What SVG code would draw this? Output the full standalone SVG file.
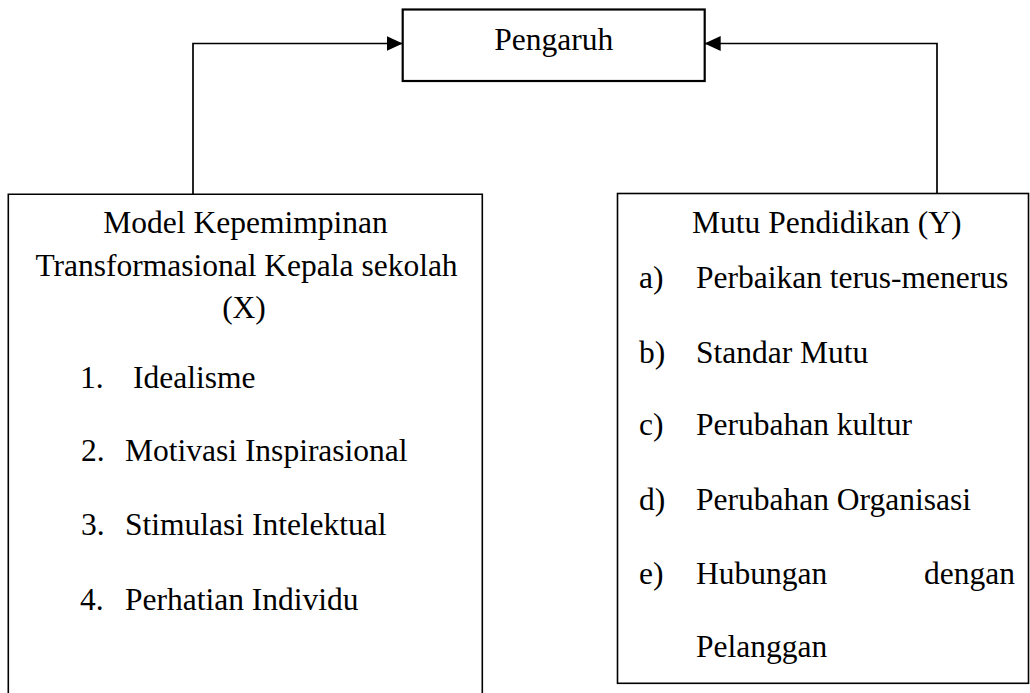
<svg xmlns="http://www.w3.org/2000/svg" width="1030" height="693" viewBox="0 0 1030 693">
  <style>
    .box { fill: #ffffff; stroke: #000000; stroke-width: 1.6; }
    .box-top { fill: #ffffff; stroke: #000000; stroke-width: 2.2; }
    .conn { fill: none; stroke: #000000; stroke-width: 1.7; }
    text { font-family: "Liberation Serif", "Times New Roman", serif; font-size: 31.5px; fill: #000000; }
    .c { text-anchor: middle; }
  </style>
  <defs>
    <marker id="arrow" markerUnits="userSpaceOnUse" markerWidth="16" markerHeight="16" viewBox="0 0 16 16" refX="16" refY="8" orient="auto">
      <path d="M0,0.5 L16,8 L0,15.5 z" fill="#000000"/>
    </marker>
  </defs>
  <rect width="1030" height="693" fill="#ffffff"/>

  <g id="connectors">
    <path class="conn" d="M193,194.3 V43.5 H402.7" marker-end="url(#arrow)"/>
    <path class="conn" d="M937,193.5 V43.5 H704.7" marker-end="url(#arrow)"/>
  </g>

  <g id="node-pengaruh">
    <rect class="box-top" x="402.7" y="9.5" width="302" height="71.5"/>
    <text class="c" x="553.7" y="50">Pengaruh</text>
  </g>

  <g id="node-x">
    <path class="box" d="M8.3,710 V194.3 H482.3 V710"/>
    <text class="c" x="245.5" y="233">Model Kepemimpinan</text>
    <text class="c" x="246.5" y="276">Transformasional Kepala sekolah</text>
    <text class="c" x="244" y="318">(X)</text>
    <text x="80" y="388">1.</text>
    <text x="133" y="388">Idealisme</text>
    <text x="81" y="461">2.</text>
    <text x="125" y="461">Motivasi Inspirasional</text>
    <text x="81" y="535">3.</text>
    <text x="125" y="535">Stimulasi Intelektual</text>
    <text x="80" y="610">4.</text>
    <text x="125" y="610">Perhatian Individu</text>
  </g>

  <g id="node-y">
    <rect class="box" x="617.5" y="193.5" width="411" height="489.8"/>
    <text x="692" y="233">Mutu Pendidikan (Y)</text>
    <text x="639" y="288">a)</text>
    <text x="696" y="288">Perbaikan terus-menerus</text>
    <text x="639" y="363">b)</text>
    <text x="696" y="363">Standar Mutu</text>
    <text x="639" y="435">c)</text>
    <text x="696" y="435">Perubahan kultur</text>
    <text x="639" y="510">d)</text>
    <text x="696" y="510">Perubahan Organisasi</text>
    <text x="639" y="584">e)</text>
    <text x="696" y="584">Hubungan</text>
    <text x="1015" y="584" text-anchor="end">dengan</text>
    <text x="696" y="657">Pelanggan</text>
  </g>
</svg>
